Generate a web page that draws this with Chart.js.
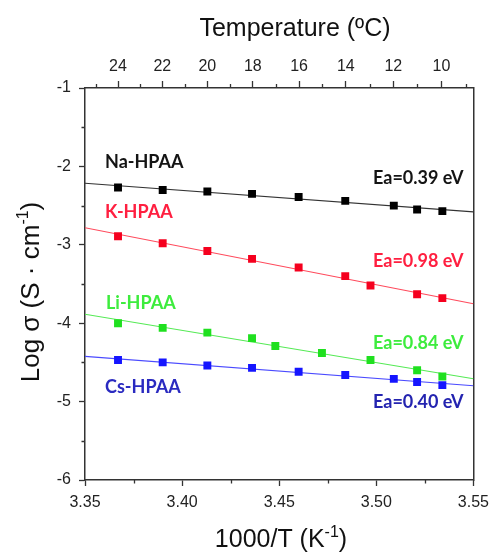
<!DOCTYPE html>
<html>
<head>
<meta charset="utf-8">
<script src="https://cdn.jsdelivr.net/npm/chart.js@4.4.0/dist/chart.umd.min.js"></script>
<style>
  html, body { margin: 0; padding: 0; background: #ffffff; }
  #wrap { width: 496px; height: 552px; }
</style>
</head>
<body>
<div id="wrap"><canvas id="c" width="496" height="552"></canvas></div>
<script>
// Conductivity of the four HPAA salts versus inverse temperature
const seriesNames = ['Na-HPAA', 'K-HPAA', 'Li-HPAA', 'Cs-HPAA'];
const activationLabels = ['Ea=0.39 eV', 'Ea=0.98 eV', 'Ea=0.84 eV', 'Ea=0.40 eV'];

// 1000/T (K^-1) and log sigma (S/cm) for each salt
const naX = [3.367, 3.390, 3.413, 3.436, 3.460, 3.484, 3.509, 3.521, 3.534];
const naY = [-2.27, -2.30, -2.32, -2.35, -2.39, -2.44, -2.50, -2.55, -2.57];
const kX  = [3.367, 3.390, 3.413, 3.436, 3.460, 3.484, 3.497, 3.521, 3.534];
const kY  = [-2.89, -2.98, -3.08, -3.18, -3.29, -3.40, -3.52, -3.63, -3.68];
const liX = [3.367, 3.390, 3.413, 3.436, 3.448, 3.472, 3.497, 3.521, 3.534];
const liY = [-4.00, -4.06, -4.12, -4.19, -4.29, -4.38, -4.47, -4.60, -4.68];
const csX = [3.367, 3.390, 3.413, 3.436, 3.460, 3.484, 3.509, 3.521, 3.534];
const csY = [-4.47, -4.50, -4.54, -4.57, -4.62, -4.66, -4.71, -4.75, -4.79];

// Axis ticks
const xTickValues = [3.35, 3.40, 3.45, 3.50, 3.55];
const xMinorValues = [3.375, 3.425, 3.475, 3.525];
const yTickValues = [-6, -5, -4, -3, -2, -1];
const yMinorValues = [-5.5, -4.5, -3.5, -2.5, -1.5];
const tempTicks = [24, 22, 20, 18, 16, 14, 12, 10];        // °C, top axis
const tempMinor = [25, 23, 21, 19, 17, 15, 13, 11, 9];

const X_MIN = 3.35, X_MAX = 3.55, Y_MIN = -6, Y_MAX = -1;

const markerColors = ['#000000', '#f5001e', '#1fe01f', '#1515ff'];
const lineColors   = ['#333333', '#ff4a5c', '#55ea55', '#4a4aff'];
const textColors   = ['#141414', '#ff1f40', '#3dec3d', '#2a2ac0'];
const eaColors     = ['#141414', '#ff1f40', '#3dec3d', '#2424b0'];

const AXIS_FONT = '"Liberation Sans", Arial, sans-serif';
const NOTE_FONT = 'Lato, "Liberation Sans", sans-serif';
const AXIS_COLOR = '#333333';

const toInvT = t => 1000 / (t + 273);

// least-squares straight line across the full x range
function fitLine(xs, ys) {
  const n = xs.length;
  const mx = xs.reduce((a, b) => a + b, 0) / n;
  const my = ys.reduce((a, b) => a + b, 0) / n;
  let sxy = 0, sxx = 0;
  for (let i = 0; i < n; i++) { sxy += (xs[i] - mx) * (ys[i] - my); sxx += (xs[i] - mx) ** 2; }
  const m = sxy / sxx;
  return [X_MIN, X_MAX].map(x => ({ x, y: my + m * (x - mx) }));
}

const seriesX = [naX, kX, liX, csX];
const seriesY = [naY, kY, liY, csY];

const datasets = [];
seriesNames.forEach((name, i) => {
  datasets.push({
    label: name,
    data: seriesX[i].map((x, j) => ({ x, y: seriesY[i][j] })),
    showLine: false,
    pointStyle: 'rect',
    pointRadius: 5.6,
    pointHoverRadius: 5.6,
    backgroundColor: markerColors[i],
    borderColor: markerColors[i],
    borderWidth: 0,
    order: 0
  });
});
seriesNames.forEach((name, i) => {
  datasets.push({
    label: name + ' fit',
    data: fitLine(seriesX[i], seriesY[i]),
    showLine: true,
    pointRadius: 0,
    pointHoverRadius: 0,
    borderColor: lineColors[i],
    borderWidth: 1.1,
    order: 1
  });
});

// Text placement in data units: series names left-aligned, Ea right-aligned
const namePos = [[3.3603, -1.94], [3.3603, -2.58], [3.3608, -3.74], [3.3603, -4.81]];
const eaPos   = [[3.5449, -2.145], [3.5449, -3.205], [3.5449, -4.258], [3.5449, -5.004]];

function drawRich(ctx, parts, x, y, size, align) {
  const supSize = Math.round(size * 0.62);
  let w = 0;
  parts.forEach(p => {
    ctx.font = (p.sup ? supSize : size) + 'px ' + AXIS_FONT;
    p.w = ctx.measureText(p.t).width;
    w += p.w;
  });
  let cx = align === 'center' ? x - w / 2 : x;
  ctx.textAlign = 'left';
  ctx.textBaseline = 'alphabetic';
  parts.forEach(p => {
    ctx.font = (p.sup ? supSize : size) + 'px ' + AXIS_FONT;
    ctx.fillText(p.t, cx, p.sup ? y - size * 0.42 : y);
    cx += p.w;
  });
}

const decorPlugin = {
  id: 'decor',
  afterDraw(chart) {
    const ctx = chart.ctx;
    const xs = chart.scales.x, ys = chart.scales.y, area = chart.chartArea;
    ctx.save();
    // minor ticks, pointing outward
    ctx.strokeStyle = AXIS_COLOR;
    ctx.lineWidth = 1.3;
    ctx.beginPath();
    xMinorValues.forEach(v => {
      const px = Math.round(xs.getPixelForValue(v)) + 0.5;
      ctx.moveTo(px, area.bottom); ctx.lineTo(px, area.bottom + 3.5);
    });
    yMinorValues.forEach(v => {
      const py = Math.round(ys.getPixelForValue(v)) + 0.5;
      ctx.moveTo(area.left, py); ctx.lineTo(area.left - 3.5, py);
    });
    tempMinor.forEach(t => {
      const px = Math.round(xs.getPixelForValue(toInvT(t))) + 0.5;
      ctx.moveTo(px, area.top); ctx.lineTo(px, area.top - 4);
    });
    ctx.stroke();

    // axis titles
    ctx.fillStyle = '#111111';
    drawRich(ctx, [{ t: 'Temperature (ºC)' }], 295, 36, 25, 'center');
    drawRich(ctx, [{ t: '1000/T (K' }, { t: '-1', sup: true }, { t: ')' }], 281, 547, 25, 'center');
    ctx.save();
    ctx.translate(39, 292);
    ctx.rotate(-Math.PI / 2);
    drawRich(ctx, [{ t: 'Log σ (S · cm' }, { t: '-1', sup: true }, { t: ')' }], 0, 0, 26, 'center');
    ctx.restore();

    // series names and activation energies
    ctx.font = 'bold 18px ' + NOTE_FONT;
    ctx.textBaseline = 'middle';
    seriesNames.forEach((name, i) => {
      ctx.fillStyle = textColors[i];
      ctx.textAlign = 'left';
      ctx.fillText(name, xs.getPixelForValue(namePos[i][0]), ys.getPixelForValue(namePos[i][1]));
      ctx.fillStyle = eaColors[i];
      ctx.textAlign = 'right';
      ctx.fillText(activationLabels[i], xs.getPixelForValue(eaPos[i][0]), ys.getPixelForValue(eaPos[i][1]));
    });
    ctx.restore();
  }
};

const tickFont = { family: AXIS_FONT, size: 16 };
const gridOpts = { drawOnChartArea: false, tickLength: 6, color: AXIS_COLOR, tickColor: AXIS_COLOR, tickWidth: 1.3 };
const borderOpts = { color: AXIS_COLOR, width: 1.5 };

new Chart(document.getElementById('c'), {
  type: 'scatter',
  data: { datasets },
  options: {
    responsive: false,
    animation: false,
    layout: { padding: 0 },
    plugins: { legend: { display: false }, tooltip: { enabled: false }, title: { display: false } },
    scales: {
      x: {
        type: 'linear', position: 'bottom', min: X_MIN, max: X_MAX,
        afterBuildTicks: s => { s.ticks = xTickValues.map(v => ({ value: v })); },
        afterFit: s => { s.height = 72; },
        ticks: { font: tickFont, color: '#222222', padding: 7, maxRotation: 0, autoSkip: false,
                 callback: v => Number(v).toFixed(2) },
        grid: gridOpts, border: borderOpts
      },
      xTop: {
        type: 'linear', position: 'top', min: X_MIN, max: X_MAX,
        afterBuildTicks: s => { s.ticks = tempTicks.map(t => ({ value: toInvT(t) })); },
        afterFit: s => { s.height = 88; },
        ticks: { font: tickFont, color: '#222222', padding: 5, maxRotation: 0, autoSkip: false,
                 callback: (v, i) => String(tempTicks[i]) },
        grid: Object.assign({}, gridOpts, { tickLength: 7 }), border: borderOpts
      },
      y: {
        type: 'linear', position: 'left', min: Y_MIN, max: Y_MAX,
        afterBuildTicks: s => { s.ticks = yTickValues.map(v => ({ value: v })); },
        afterFit: s => { s.width = 85; },
        ticks: { font: tickFont, color: '#222222', padding: 8, autoSkip: false,
                 callback: v => String(v) },
        grid: gridOpts, border: borderOpts
      },
      yRight: {
        type: 'linear', position: 'right', min: Y_MIN, max: Y_MAX,
        afterFit: s => { s.width = 21; },
        ticks: { display: false },
        grid: { drawOnChartArea: false, drawTicks: false },
        border: borderOpts
      }
    }
  },
  plugins: [decorPlugin]
});
</script>
</body>
</html>
